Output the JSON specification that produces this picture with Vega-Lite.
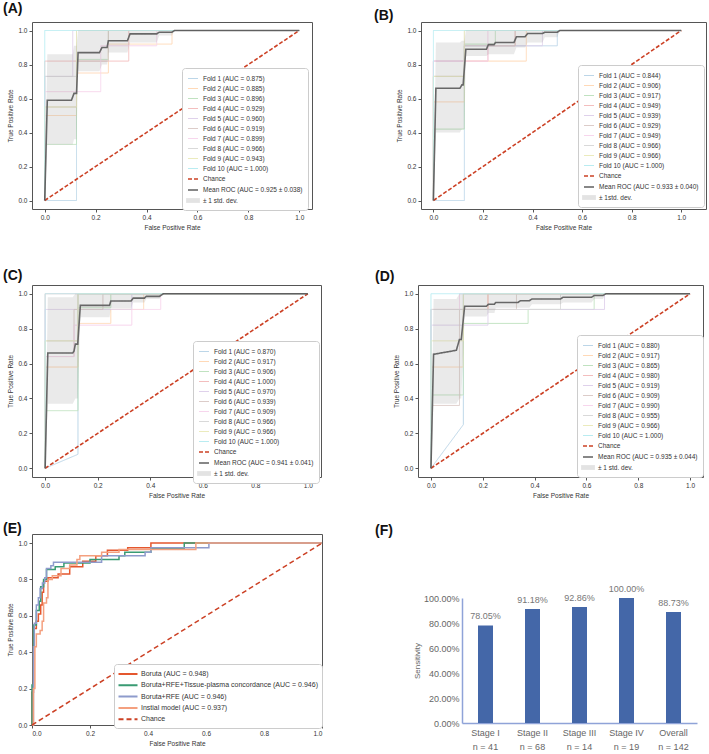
{
"$schema": "https://vega.github.io/schema/vega-lite/v6.json",
"autosize": {"type": "none"},
"padding": {"left": 32, "top": 22, "right": 677, "bottom": 732},
"background": "white",
"config": {
  "font": "Liberation Sans",
  "view": {"stroke": "#555555", "strokeWidth": 1},
  "axis": {"grid": false, "domain": false, "tickSize": 3, "tickColor": "#555555", "labelFontSize": 6.5, "labelColor": "#333333", "titleFontSize": 6.5, "titleFontWeight": "normal", "titleColor": "#333333", "labelPadding": 2, "titlePadding": 4, "labelOverlap": false, "labelSeparation": 0, "labelBound": false},
  "legend": {"orient": "none", "symbolType": "stroke", "fillColor": "white", "strokeColor": "#cccccc", "cornerRadius": 3, "padding": 5, "labelFontSize": 6.5, "labelColor": "#333333", "symbolSize": 100, "rowPadding": 1, "labelLimit": 300, "labelOffset": 4},
  "title": {"anchor": "start", "frame": "group", "fontSize": 14, "fontWeight": "bold", "color": "#111111", "baseline": "bottom"}
},
"datasets": {
"roc": [
{"p":"A","s":"Fold 1 (AUC = 0.875)","i":0,"x":0,"y":0},{"p":"A","s":"Fold 1 (AUC = 0.875)","i":1,"x":0.125,"y":0},{"p":"A","s":"Fold 1 (AUC = 0.875)","i":2,"x":0.125,"y":1},{"p":"A","s":"Fold 1 (AUC = 0.875)","i":3,"x":1,"y":1},
{"p":"A","s":"Fold 2 (AUC = 0.885)","i":0,"x":0,"y":0},{"p":"A","s":"Fold 2 (AUC = 0.885)","i":1,"x":0,"y":0.5},{"p":"A","s":"Fold 2 (AUC = 0.885)","i":2,"x":0.125,"y":0.5},{"p":"A","s":"Fold 2 (AUC = 0.885)","i":3,"x":0.125,"y":0.75},{"p":"A","s":"Fold 2 (AUC = 0.885)","i":4,"x":0.25,"y":0.75},{"p":"A","s":"Fold 2 (AUC = 0.885)","i":5,"x":0.25,"y":0.92},{"p":"A","s":"Fold 2 (AUC = 0.885)","i":6,"x":0.5,"y":0.92},{"p":"A","s":"Fold 2 (AUC = 0.885)","i":7,"x":0.5,"y":1},{"p":"A","s":"Fold 2 (AUC = 0.885)","i":8,"x":1,"y":1},
{"p":"A","s":"Fold 3 (AUC = 0.896)","i":0,"x":0,"y":0},{"p":"A","s":"Fold 3 (AUC = 0.896)","i":1,"x":0,"y":0.33},{"p":"A","s":"Fold 3 (AUC = 0.896)","i":2,"x":0.125,"y":0.33},{"p":"A","s":"Fold 3 (AUC = 0.896)","i":3,"x":0.125,"y":0.83},{"p":"A","s":"Fold 3 (AUC = 0.896)","i":4,"x":0.25,"y":0.83},{"p":"A","s":"Fold 3 (AUC = 0.896)","i":5,"x":0.25,"y":1},{"p":"A","s":"Fold 3 (AUC = 0.896)","i":6,"x":1,"y":1},
{"p":"A","s":"Fold 4 (AUC = 0.929)","i":0,"x":0,"y":0},{"p":"A","s":"Fold 4 (AUC = 0.929)","i":1,"x":0,"y":0.82},{"p":"A","s":"Fold 4 (AUC = 0.929)","i":2,"x":0.33,"y":0.82},{"p":"A","s":"Fold 4 (AUC = 0.929)","i":3,"x":0.33,"y":1},{"p":"A","s":"Fold 4 (AUC = 0.929)","i":4,"x":1,"y":1},
{"p":"A","s":"Fold 5 (AUC = 0.960)","i":0,"x":0,"y":0},{"p":"A","s":"Fold 5 (AUC = 0.960)","i":1,"x":0,"y":0.73},{"p":"A","s":"Fold 5 (AUC = 0.960)","i":2,"x":0.11,"y":0.73},{"p":"A","s":"Fold 5 (AUC = 0.960)","i":3,"x":0.11,"y":1},{"p":"A","s":"Fold 5 (AUC = 0.960)","i":4,"x":1,"y":1},
{"p":"A","s":"Fold 6 (AUC = 0.919)","i":0,"x":0,"y":0},{"p":"A","s":"Fold 6 (AUC = 0.919)","i":1,"x":0,"y":0.55},{"p":"A","s":"Fold 6 (AUC = 0.919)","i":2,"x":0.125,"y":0.55},{"p":"A","s":"Fold 6 (AUC = 0.919)","i":3,"x":0.125,"y":0.82},{"p":"A","s":"Fold 6 (AUC = 0.919)","i":4,"x":0.25,"y":0.82},{"p":"A","s":"Fold 6 (AUC = 0.919)","i":5,"x":0.25,"y":1},{"p":"A","s":"Fold 6 (AUC = 0.919)","i":6,"x":1,"y":1},
{"p":"A","s":"Fold 7 (AUC = 0.899)","i":0,"x":0,"y":0},{"p":"A","s":"Fold 7 (AUC = 0.899)","i":1,"x":0,"y":0.64},{"p":"A","s":"Fold 7 (AUC = 0.899)","i":2,"x":0.22,"y":0.64},{"p":"A","s":"Fold 7 (AUC = 0.899)","i":3,"x":0.22,"y":0.91},{"p":"A","s":"Fold 7 (AUC = 0.899)","i":4,"x":0.44,"y":0.91},{"p":"A","s":"Fold 7 (AUC = 0.899)","i":5,"x":0.44,"y":1},{"p":"A","s":"Fold 7 (AUC = 0.899)","i":6,"x":1,"y":1},
{"p":"A","s":"Fold 8 (AUC = 0.966)","i":0,"x":0,"y":0},{"p":"A","s":"Fold 8 (AUC = 0.966)","i":1,"x":0,"y":0.73},{"p":"A","s":"Fold 8 (AUC = 0.966)","i":2,"x":0.125,"y":0.73},{"p":"A","s":"Fold 8 (AUC = 0.966)","i":3,"x":0.125,"y":1},{"p":"A","s":"Fold 8 (AUC = 0.966)","i":4,"x":1,"y":1},
{"p":"A","s":"Fold 9 (AUC = 0.943)","i":0,"x":0,"y":0},{"p":"A","s":"Fold 9 (AUC = 0.943)","i":1,"x":0,"y":0.55},{"p":"A","s":"Fold 9 (AUC = 0.943)","i":2,"x":0.125,"y":0.55},{"p":"A","s":"Fold 9 (AUC = 0.943)","i":3,"x":0.125,"y":1},{"p":"A","s":"Fold 9 (AUC = 0.943)","i":4,"x":1,"y":1},
{"p":"A","s":"Fold 10 (AUC = 1.000)","i":0,"x":0,"y":0},{"p":"A","s":"Fold 10 (AUC = 1.000)","i":1,"x":0,"y":1},{"p":"A","s":"Fold 10 (AUC = 1.000)","i":2,"x":1,"y":1},
{"p":"A","s":"Chance","i":0,"x":0,"y":0},{"p":"A","s":"Chance","i":1,"x":1,"y":1},
{"p":"A","s":"Mean ROC (AUC = 0.925 ± 0.038)","i":0,"x":0,"y":0},{"p":"A","s":"Mean ROC (AUC = 0.925 ± 0.038)","i":1,"x":0.0101,"y":0.59},{"p":"A","s":"Mean ROC (AUC = 0.925 ± 0.038)","i":2,"x":0.105,"y":0.59},{"p":"A","s":"Mean ROC (AUC = 0.925 ± 0.038)","i":3,"x":0.115,"y":0.63},{"p":"A","s":"Mean ROC (AUC = 0.925 ± 0.038)","i":4,"x":0.125,"y":0.63},{"p":"A","s":"Mean ROC (AUC = 0.925 ± 0.038)","i":5,"x":0.131,"y":0.87},{"p":"A","s":"Mean ROC (AUC = 0.925 ± 0.038)","i":6,"x":0.215,"y":0.87},{"p":"A","s":"Mean ROC (AUC = 0.925 ± 0.038)","i":7,"x":0.225,"y":0.9},{"p":"A","s":"Mean ROC (AUC = 0.925 ± 0.038)","i":8,"x":0.245,"y":0.9},{"p":"A","s":"Mean ROC (AUC = 0.925 ± 0.038)","i":9,"x":0.25,"y":0.94},{"p":"A","s":"Mean ROC (AUC = 0.925 ± 0.038)","i":10,"x":0.325,"y":0.94},{"p":"A","s":"Mean ROC (AUC = 0.925 ± 0.038)","i":11,"x":0.335,"y":0.98},{"p":"A","s":"Mean ROC (AUC = 0.925 ± 0.038)","i":12,"x":0.44,"y":0.98},{"p":"A","s":"Mean ROC (AUC = 0.925 ± 0.038)","i":13,"x":0.45,"y":0.99},{"p":"A","s":"Mean ROC (AUC = 0.925 ± 0.038)","i":14,"x":0.5,"y":0.99},{"p":"A","s":"Mean ROC (AUC = 0.925 ± 0.038)","i":15,"x":0.51,"y":1},{"p":"A","s":"Mean ROC (AUC = 0.925 ± 0.038)","i":16,"x":1,"y":1},

{"p":"B","s":"Fold 1 (AUC = 0.844)","i":0,"x":0,"y":0},{"p":"B","s":"Fold 1 (AUC = 0.844)","i":1,"x":0.125,"y":0},{"p":"B","s":"Fold 1 (AUC = 0.844)","i":2,"x":0.125,"y":0.91},{"p":"B","s":"Fold 1 (AUC = 0.844)","i":3,"x":0.5,"y":0.91},{"p":"B","s":"Fold 1 (AUC = 0.844)","i":4,"x":0.5,"y":1},{"p":"B","s":"Fold 1 (AUC = 0.844)","i":5,"x":1,"y":1},
{"p":"B","s":"Fold 2 (AUC = 0.906)","i":0,"x":0,"y":0},{"p":"B","s":"Fold 2 (AUC = 0.906)","i":1,"x":0,"y":0.58},{"p":"B","s":"Fold 2 (AUC = 0.906)","i":2,"x":0.125,"y":0.58},{"p":"B","s":"Fold 2 (AUC = 0.906)","i":3,"x":0.125,"y":0.82},{"p":"B","s":"Fold 2 (AUC = 0.906)","i":4,"x":0.375,"y":0.82},{"p":"B","s":"Fold 2 (AUC = 0.906)","i":5,"x":0.375,"y":1},{"p":"B","s":"Fold 2 (AUC = 0.906)","i":6,"x":1,"y":1},
{"p":"B","s":"Fold 3 (AUC = 0.917)","i":0,"x":0,"y":0},{"p":"B","s":"Fold 3 (AUC = 0.917)","i":1,"x":0,"y":0.42},{"p":"B","s":"Fold 3 (AUC = 0.917)","i":2,"x":0.125,"y":0.42},{"p":"B","s":"Fold 3 (AUC = 0.917)","i":3,"x":0.125,"y":0.92},{"p":"B","s":"Fold 3 (AUC = 0.917)","i":4,"x":0.25,"y":0.92},{"p":"B","s":"Fold 3 (AUC = 0.917)","i":5,"x":0.25,"y":1},{"p":"B","s":"Fold 3 (AUC = 0.917)","i":6,"x":1,"y":1},
{"p":"B","s":"Fold 4 (AUC = 0.949)","i":0,"x":0,"y":0},{"p":"B","s":"Fold 4 (AUC = 0.949)","i":1,"x":0,"y":0.82},{"p":"B","s":"Fold 4 (AUC = 0.949)","i":2,"x":0.22,"y":0.82},{"p":"B","s":"Fold 4 (AUC = 0.949)","i":3,"x":0.22,"y":0.91},{"p":"B","s":"Fold 4 (AUC = 0.949)","i":4,"x":0.33,"y":0.91},{"p":"B","s":"Fold 4 (AUC = 0.949)","i":5,"x":0.33,"y":1},{"p":"B","s":"Fold 4 (AUC = 0.949)","i":6,"x":1,"y":1},
{"p":"B","s":"Fold 5 (AUC = 0.939)","i":0,"x":0,"y":0},{"p":"B","s":"Fold 5 (AUC = 0.939)","i":1,"x":0,"y":0.82},{"p":"B","s":"Fold 5 (AUC = 0.939)","i":2,"x":0.125,"y":0.82},{"p":"B","s":"Fold 5 (AUC = 0.939)","i":3,"x":0.125,"y":0.91},{"p":"B","s":"Fold 5 (AUC = 0.939)","i":4,"x":0.44,"y":0.91},{"p":"B","s":"Fold 5 (AUC = 0.939)","i":5,"x":0.44,"y":1},{"p":"B","s":"Fold 5 (AUC = 0.939)","i":6,"x":1,"y":1},
{"p":"B","s":"Fold 6 (AUC = 0.929)","i":0,"x":0,"y":0},{"p":"B","s":"Fold 6 (AUC = 0.929)","i":1,"x":0,"y":0.73},{"p":"B","s":"Fold 6 (AUC = 0.929)","i":2,"x":0.125,"y":0.73},{"p":"B","s":"Fold 6 (AUC = 0.929)","i":3,"x":0.125,"y":0.91},{"p":"B","s":"Fold 6 (AUC = 0.929)","i":4,"x":0.33,"y":0.91},{"p":"B","s":"Fold 6 (AUC = 0.929)","i":5,"x":0.33,"y":1},{"p":"B","s":"Fold 6 (AUC = 0.929)","i":6,"x":1,"y":1},
{"p":"B","s":"Fold 7 (AUC = 0.949)","i":0,"x":0,"y":0},{"p":"B","s":"Fold 7 (AUC = 0.949)","i":1,"x":0,"y":0.82},{"p":"B","s":"Fold 7 (AUC = 0.949)","i":2,"x":0.22,"y":0.82},{"p":"B","s":"Fold 7 (AUC = 0.949)","i":3,"x":0.22,"y":1},{"p":"B","s":"Fold 7 (AUC = 0.949)","i":4,"x":1,"y":1},
{"p":"B","s":"Fold 8 (AUC = 0.966)","i":0,"x":0,"y":0},{"p":"B","s":"Fold 8 (AUC = 0.966)","i":1,"x":0,"y":0.73},{"p":"B","s":"Fold 8 (AUC = 0.966)","i":2,"x":0.125,"y":0.73},{"p":"B","s":"Fold 8 (AUC = 0.966)","i":3,"x":0.125,"y":1},{"p":"B","s":"Fold 8 (AUC = 0.966)","i":4,"x":1,"y":1},
{"p":"B","s":"Fold 9 (AUC = 0.966)","i":0,"x":0,"y":0},{"p":"B","s":"Fold 9 (AUC = 0.966)","i":1,"x":0,"y":0.73},{"p":"B","s":"Fold 9 (AUC = 0.966)","i":2,"x":0.125,"y":0.73},{"p":"B","s":"Fold 9 (AUC = 0.966)","i":3,"x":0.125,"y":1},{"p":"B","s":"Fold 9 (AUC = 0.966)","i":4,"x":1,"y":1},
{"p":"B","s":"Fold 10 (AUC = 1.000)","i":0,"x":0,"y":0},{"p":"B","s":"Fold 10 (AUC = 1.000)","i":1,"x":0,"y":1},{"p":"B","s":"Fold 10 (AUC = 1.000)","i":2,"x":1,"y":1},
{"p":"B","s":"Chance","i":0,"x":0,"y":0},{"p":"B","s":"Chance","i":1,"x":1,"y":1},
{"p":"B","s":"Mean ROC (AUC = 0.933 ± 0.040)","i":0,"x":0,"y":0},{"p":"B","s":"Mean ROC (AUC = 0.933 ± 0.040)","i":1,"x":0.0101,"y":0.66},{"p":"B","s":"Mean ROC (AUC = 0.933 ± 0.040)","i":2,"x":0.107,"y":0.66},{"p":"B","s":"Mean ROC (AUC = 0.933 ± 0.040)","i":3,"x":0.115,"y":0.68},{"p":"B","s":"Mean ROC (AUC = 0.933 ± 0.040)","i":4,"x":0.12,"y":0.68},{"p":"B","s":"Mean ROC (AUC = 0.933 ± 0.040)","i":5,"x":0.131,"y":0.89},{"p":"B","s":"Mean ROC (AUC = 0.933 ± 0.040)","i":6,"x":0.214,"y":0.89},{"p":"B","s":"Mean ROC (AUC = 0.933 ± 0.040)","i":7,"x":0.222,"y":0.917},{"p":"B","s":"Mean ROC (AUC = 0.933 ± 0.040)","i":8,"x":0.245,"y":0.917},{"p":"B","s":"Mean ROC (AUC = 0.933 ± 0.040)","i":9,"x":0.25,"y":0.929},{"p":"B","s":"Mean ROC (AUC = 0.933 ± 0.040)","i":10,"x":0.325,"y":0.929},{"p":"B","s":"Mean ROC (AUC = 0.933 ± 0.040)","i":11,"x":0.335,"y":0.963},{"p":"B","s":"Mean ROC (AUC = 0.933 ± 0.040)","i":12,"x":0.37,"y":0.963},{"p":"B","s":"Mean ROC (AUC = 0.933 ± 0.040)","i":13,"x":0.38,"y":0.982},{"p":"B","s":"Mean ROC (AUC = 0.933 ± 0.040)","i":14,"x":0.44,"y":0.982},{"p":"B","s":"Mean ROC (AUC = 0.933 ± 0.040)","i":15,"x":0.45,"y":0.99},{"p":"B","s":"Mean ROC (AUC = 0.933 ± 0.040)","i":16,"x":0.5,"y":0.99},{"p":"B","s":"Mean ROC (AUC = 0.933 ± 0.040)","i":17,"x":0.51,"y":1},{"p":"B","s":"Mean ROC (AUC = 0.933 ± 0.040)","i":18,"x":1,"y":1},

{"p":"C","s":"Fold 1 (AUC = 0.870)","i":0,"x":0,"y":0},{"p":"C","s":"Fold 1 (AUC = 0.870)","i":1,"x":0.125,"y":0.08},{"p":"C","s":"Fold 1 (AUC = 0.870)","i":2,"x":0.125,"y":1},{"p":"C","s":"Fold 1 (AUC = 0.870)","i":3,"x":1,"y":1},
{"p":"C","s":"Fold 2 (AUC = 0.917)","i":0,"x":0,"y":0},{"p":"C","s":"Fold 2 (AUC = 0.917)","i":1,"x":0,"y":0.58},{"p":"C","s":"Fold 2 (AUC = 0.917)","i":2,"x":0.125,"y":0.58},{"p":"C","s":"Fold 2 (AUC = 0.917)","i":3,"x":0.125,"y":0.83},{"p":"C","s":"Fold 2 (AUC = 0.917)","i":4,"x":0.25,"y":0.83},{"p":"C","s":"Fold 2 (AUC = 0.917)","i":5,"x":0.25,"y":0.91},{"p":"C","s":"Fold 2 (AUC = 0.917)","i":6,"x":0.375,"y":0.91},{"p":"C","s":"Fold 2 (AUC = 0.917)","i":7,"x":0.375,"y":1},{"p":"C","s":"Fold 2 (AUC = 0.917)","i":8,"x":1,"y":1},
{"p":"C","s":"Fold 3 (AUC = 0.906)","i":0,"x":0,"y":0},{"p":"C","s":"Fold 3 (AUC = 0.906)","i":1,"x":0,"y":0.33},{"p":"C","s":"Fold 3 (AUC = 0.906)","i":2,"x":0.125,"y":0.33},{"p":"C","s":"Fold 3 (AUC = 0.906)","i":3,"x":0.125,"y":0.92},{"p":"C","s":"Fold 3 (AUC = 0.906)","i":4,"x":0.25,"y":0.92},{"p":"C","s":"Fold 3 (AUC = 0.906)","i":5,"x":0.25,"y":1},{"p":"C","s":"Fold 3 (AUC = 0.906)","i":6,"x":1,"y":1},
{"p":"C","s":"Fold 4 (AUC = 1.000)","i":0,"x":0,"y":0},{"p":"C","s":"Fold 4 (AUC = 1.000)","i":1,"x":0,"y":1},{"p":"C","s":"Fold 4 (AUC = 1.000)","i":2,"x":1,"y":1},
{"p":"C","s":"Fold 5 (AUC = 0.970)","i":0,"x":0,"y":0},{"p":"C","s":"Fold 5 (AUC = 0.970)","i":1,"x":0,"y":0.91},{"p":"C","s":"Fold 5 (AUC = 0.970)","i":2,"x":0.33,"y":0.91},{"p":"C","s":"Fold 5 (AUC = 0.970)","i":3,"x":0.33,"y":1},{"p":"C","s":"Fold 5 (AUC = 0.970)","i":4,"x":1,"y":1},
{"p":"C","s":"Fold 6 (AUC = 0.939)","i":0,"x":0,"y":0},{"p":"C","s":"Fold 6 (AUC = 0.939)","i":1,"x":0,"y":0.64},{"p":"C","s":"Fold 6 (AUC = 0.939)","i":2,"x":0.11,"y":0.64},{"p":"C","s":"Fold 6 (AUC = 0.939)","i":3,"x":0.11,"y":0.91},{"p":"C","s":"Fold 6 (AUC = 0.939)","i":4,"x":0.22,"y":0.91},{"p":"C","s":"Fold 6 (AUC = 0.939)","i":5,"x":0.22,"y":1},{"p":"C","s":"Fold 6 (AUC = 0.939)","i":6,"x":1,"y":1},
{"p":"C","s":"Fold 7 (AUC = 0.909)","i":0,"x":0,"y":0},{"p":"C","s":"Fold 7 (AUC = 0.909)","i":1,"x":0,"y":0.64},{"p":"C","s":"Fold 7 (AUC = 0.909)","i":2,"x":0.11,"y":0.64},{"p":"C","s":"Fold 7 (AUC = 0.909)","i":3,"x":0.11,"y":0.82},{"p":"C","s":"Fold 7 (AUC = 0.909)","i":4,"x":0.33,"y":0.82},{"p":"C","s":"Fold 7 (AUC = 0.909)","i":5,"x":0.33,"y":0.91},{"p":"C","s":"Fold 7 (AUC = 0.909)","i":6,"x":0.44,"y":0.91},{"p":"C","s":"Fold 7 (AUC = 0.909)","i":7,"x":0.44,"y":1},{"p":"C","s":"Fold 7 (AUC = 0.909)","i":8,"x":1,"y":1},
{"p":"C","s":"Fold 8 (AUC = 0.966)","i":0,"x":0,"y":0},{"p":"C","s":"Fold 8 (AUC = 0.966)","i":1,"x":0,"y":0.73},{"p":"C","s":"Fold 8 (AUC = 0.966)","i":2,"x":0.125,"y":0.73},{"p":"C","s":"Fold 8 (AUC = 0.966)","i":3,"x":0.125,"y":1},{"p":"C","s":"Fold 8 (AUC = 0.966)","i":4,"x":1,"y":1},
{"p":"C","s":"Fold 9 (AUC = 0.966)","i":0,"x":0,"y":0},{"p":"C","s":"Fold 9 (AUC = 0.966)","i":1,"x":0,"y":0.73},{"p":"C","s":"Fold 9 (AUC = 0.966)","i":2,"x":0.125,"y":0.73},{"p":"C","s":"Fold 9 (AUC = 0.966)","i":3,"x":0.125,"y":1},{"p":"C","s":"Fold 9 (AUC = 0.966)","i":4,"x":1,"y":1},
{"p":"C","s":"Fold 10 (AUC = 1.000)","i":0,"x":0,"y":0},{"p":"C","s":"Fold 10 (AUC = 1.000)","i":1,"x":0,"y":1},{"p":"C","s":"Fold 10 (AUC = 1.000)","i":2,"x":1,"y":1},
{"p":"C","s":"Chance","i":0,"x":0,"y":0},{"p":"C","s":"Chance","i":1,"x":1,"y":1},
{"p":"C","s":"Mean ROC (AUC = 0.941 ± 0.041)","i":0,"x":0,"y":0},{"p":"C","s":"Mean ROC (AUC = 0.941 ± 0.041)","i":1,"x":0.0101,"y":0.66},{"p":"C","s":"Mean ROC (AUC = 0.941 ± 0.041)","i":2,"x":0.105,"y":0.66},{"p":"C","s":"Mean ROC (AUC = 0.941 ± 0.041)","i":3,"x":0.11,"y":0.672},{"p":"C","s":"Mean ROC (AUC = 0.941 ± 0.041)","i":4,"x":0.115,"y":0.711},{"p":"C","s":"Mean ROC (AUC = 0.941 ± 0.041)","i":5,"x":0.124,"y":0.711},{"p":"C","s":"Mean ROC (AUC = 0.941 ± 0.041)","i":6,"x":0.134,"y":0.933},{"p":"C","s":"Mean ROC (AUC = 0.941 ± 0.041)","i":7,"x":0.245,"y":0.933},{"p":"C","s":"Mean ROC (AUC = 0.941 ± 0.041)","i":8,"x":0.25,"y":0.958},{"p":"C","s":"Mean ROC (AUC = 0.941 ± 0.041)","i":9,"x":0.327,"y":0.958},{"p":"C","s":"Mean ROC (AUC = 0.941 ± 0.041)","i":10,"x":0.335,"y":0.975},{"p":"C","s":"Mean ROC (AUC = 0.941 ± 0.041)","i":11,"x":0.378,"y":0.975},{"p":"C","s":"Mean ROC (AUC = 0.941 ± 0.041)","i":12,"x":0.385,"y":0.985},{"p":"C","s":"Mean ROC (AUC = 0.941 ± 0.041)","i":13,"x":0.435,"y":0.985},{"p":"C","s":"Mean ROC (AUC = 0.941 ± 0.041)","i":14,"x":0.45,"y":1},{"p":"C","s":"Mean ROC (AUC = 0.941 ± 0.041)","i":15,"x":1,"y":1},

{"p":"D","s":"Fold 1 (AUC = 0.880)","i":0,"x":0,"y":0},{"p":"D","s":"Fold 1 (AUC = 0.880)","i":1,"x":0.125,"y":0.25},{"p":"D","s":"Fold 1 (AUC = 0.880)","i":2,"x":0.125,"y":1},{"p":"D","s":"Fold 1 (AUC = 0.880)","i":3,"x":1,"y":1},
{"p":"D","s":"Fold 2 (AUC = 0.917)","i":0,"x":0,"y":0},{"p":"D","s":"Fold 2 (AUC = 0.917)","i":1,"x":0,"y":0.58},{"p":"D","s":"Fold 2 (AUC = 0.917)","i":2,"x":0.125,"y":0.58},{"p":"D","s":"Fold 2 (AUC = 0.917)","i":3,"x":0.125,"y":0.91},{"p":"D","s":"Fold 2 (AUC = 0.917)","i":4,"x":0.22,"y":0.91},{"p":"D","s":"Fold 2 (AUC = 0.917)","i":5,"x":0.22,"y":1},{"p":"D","s":"Fold 2 (AUC = 0.917)","i":6,"x":1,"y":1},
{"p":"D","s":"Fold 3 (AUC = 0.865)","i":0,"x":0,"y":0},{"p":"D","s":"Fold 3 (AUC = 0.865)","i":1,"x":0,"y":0.42},{"p":"D","s":"Fold 3 (AUC = 0.865)","i":2,"x":0.125,"y":0.42},{"p":"D","s":"Fold 3 (AUC = 0.865)","i":3,"x":0.125,"y":0.83},{"p":"D","s":"Fold 3 (AUC = 0.865)","i":4,"x":0.375,"y":0.83},{"p":"D","s":"Fold 3 (AUC = 0.865)","i":5,"x":0.375,"y":0.91},{"p":"D","s":"Fold 3 (AUC = 0.865)","i":6,"x":0.63,"y":0.91},{"p":"D","s":"Fold 3 (AUC = 0.865)","i":7,"x":0.63,"y":1},{"p":"D","s":"Fold 3 (AUC = 0.865)","i":8,"x":1,"y":1},
{"p":"D","s":"Fold 4 (AUC = 0.980)","i":0,"x":0,"y":0},{"p":"D","s":"Fold 4 (AUC = 0.980)","i":1,"x":0,"y":0.91},{"p":"D","s":"Fold 4 (AUC = 0.980)","i":2,"x":0.22,"y":0.91},{"p":"D","s":"Fold 4 (AUC = 0.980)","i":3,"x":0.22,"y":1},{"p":"D","s":"Fold 4 (AUC = 0.980)","i":4,"x":1,"y":1},
{"p":"D","s":"Fold 5 (AUC = 0.919)","i":0,"x":0,"y":0},{"p":"D","s":"Fold 5 (AUC = 0.919)","i":1,"x":0,"y":0.82},{"p":"D","s":"Fold 5 (AUC = 0.919)","i":2,"x":0.22,"y":0.82},{"p":"D","s":"Fold 5 (AUC = 0.919)","i":3,"x":0.22,"y":0.91},{"p":"D","s":"Fold 5 (AUC = 0.919)","i":4,"x":0.67,"y":0.91},{"p":"D","s":"Fold 5 (AUC = 0.919)","i":5,"x":0.67,"y":1},{"p":"D","s":"Fold 5 (AUC = 0.919)","i":6,"x":1,"y":1},
{"p":"D","s":"Fold 6 (AUC = 0.909)","i":0,"x":0,"y":0},{"p":"D","s":"Fold 6 (AUC = 0.909)","i":1,"x":0,"y":0.36},{"p":"D","s":"Fold 6 (AUC = 0.909)","i":2,"x":0.11,"y":0.36},{"p":"D","s":"Fold 6 (AUC = 0.909)","i":3,"x":0.11,"y":0.91},{"p":"D","s":"Fold 6 (AUC = 0.909)","i":4,"x":0.33,"y":0.91},{"p":"D","s":"Fold 6 (AUC = 0.909)","i":5,"x":0.33,"y":1},{"p":"D","s":"Fold 6 (AUC = 0.909)","i":6,"x":1,"y":1},
{"p":"D","s":"Fold 7 (AUC = 0.990)","i":0,"x":0,"y":0},{"p":"D","s":"Fold 7 (AUC = 0.990)","i":1,"x":0,"y":0.91},{"p":"D","s":"Fold 7 (AUC = 0.990)","i":2,"x":0.11,"y":0.91},{"p":"D","s":"Fold 7 (AUC = 0.990)","i":3,"x":0.11,"y":1},{"p":"D","s":"Fold 7 (AUC = 0.990)","i":4,"x":1,"y":1},
{"p":"D","s":"Fold 8 (AUC = 0.955)","i":0,"x":0,"y":0},{"p":"D","s":"Fold 8 (AUC = 0.955)","i":1,"x":0,"y":0.91},{"p":"D","s":"Fold 8 (AUC = 0.955)","i":2,"x":0.5,"y":0.91},{"p":"D","s":"Fold 8 (AUC = 0.955)","i":3,"x":0.5,"y":1},{"p":"D","s":"Fold 8 (AUC = 0.955)","i":4,"x":1,"y":1},
{"p":"D","s":"Fold 9 (AUC = 0.966)","i":0,"x":0,"y":0},{"p":"D","s":"Fold 9 (AUC = 0.966)","i":1,"x":0,"y":0.73},{"p":"D","s":"Fold 9 (AUC = 0.966)","i":2,"x":0.125,"y":0.73},{"p":"D","s":"Fold 9 (AUC = 0.966)","i":3,"x":0.125,"y":1},{"p":"D","s":"Fold 9 (AUC = 0.966)","i":4,"x":1,"y":1},
{"p":"D","s":"Fold 10 (AUC = 1.000)","i":0,"x":0,"y":0},{"p":"D","s":"Fold 10 (AUC = 1.000)","i":1,"x":0,"y":1},{"p":"D","s":"Fold 10 (AUC = 1.000)","i":2,"x":1,"y":1},
{"p":"D","s":"Chance","i":0,"x":0,"y":0},{"p":"D","s":"Chance","i":1,"x":1,"y":1},
{"p":"D","s":"Mean ROC (AUC = 0.935 ± 0.044)","i":0,"x":0,"y":0},{"p":"D","s":"Mean ROC (AUC = 0.935 ± 0.044)","i":1,"x":0.0101,"y":0.653},{"p":"D","s":"Mean ROC (AUC = 0.935 ± 0.044)","i":2,"x":0.098,"y":0.676},{"p":"D","s":"Mean ROC (AUC = 0.935 ± 0.044)","i":3,"x":0.11,"y":0.738},{"p":"D","s":"Mean ROC (AUC = 0.935 ± 0.044)","i":4,"x":0.117,"y":0.738},{"p":"D","s":"Mean ROC (AUC = 0.935 ± 0.044)","i":5,"x":0.13,"y":0.928},{"p":"D","s":"Mean ROC (AUC = 0.935 ± 0.044)","i":6,"x":0.214,"y":0.928},{"p":"D","s":"Mean ROC (AUC = 0.935 ± 0.044)","i":7,"x":0.222,"y":0.94},{"p":"D","s":"Mean ROC (AUC = 0.935 ± 0.044)","i":8,"x":0.245,"y":0.94},{"p":"D","s":"Mean ROC (AUC = 0.935 ± 0.044)","i":9,"x":0.25,"y":0.95},{"p":"D","s":"Mean ROC (AUC = 0.935 ± 0.044)","i":10,"x":0.336,"y":0.95},{"p":"D","s":"Mean ROC (AUC = 0.935 ± 0.044)","i":11,"x":0.345,"y":0.96},{"p":"D","s":"Mean ROC (AUC = 0.935 ± 0.044)","i":12,"x":0.38,"y":0.96},{"p":"D","s":"Mean ROC (AUC = 0.935 ± 0.044)","i":13,"x":0.39,"y":0.97},{"p":"D","s":"Mean ROC (AUC = 0.935 ± 0.044)","i":14,"x":0.5,"y":0.97},{"p":"D","s":"Mean ROC (AUC = 0.935 ± 0.044)","i":15,"x":0.51,"y":0.98},{"p":"D","s":"Mean ROC (AUC = 0.935 ± 0.044)","i":16,"x":0.62,"y":0.98},{"p":"D","s":"Mean ROC (AUC = 0.935 ± 0.044)","i":17,"x":0.63,"y":0.99},{"p":"D","s":"Mean ROC (AUC = 0.935 ± 0.044)","i":18,"x":0.664,"y":0.99},{"p":"D","s":"Mean ROC (AUC = 0.935 ± 0.044)","i":19,"x":0.675,"y":1},{"p":"D","s":"Mean ROC (AUC = 0.935 ± 0.044)","i":20,"x":1,"y":1}
],
"band": [
{"p":"A","x":0,"lo":0,"hi":0},{"p":"A","x":0.0101,"lo":0.33,"hi":0.86},{"p":"A","x":0.11,"lo":0.33,"hi":0.86},{"p":"A","x":0.115,"lo":0.36,"hi":0.91},{"p":"A","x":0.125,"lo":0.36,"hi":0.91},{"p":"A","x":0.131,"lo":0.76,"hi":1},{"p":"A","x":0.215,"lo":0.76,"hi":1},{"p":"A","x":0.225,"lo":0.8,"hi":1},{"p":"A","x":0.245,"lo":0.8,"hi":1},{"p":"A","x":0.25,"lo":0.87,"hi":1},{"p":"A","x":0.325,"lo":0.87,"hi":1},{"p":"A","x":0.335,"lo":0.93,"hi":1},{"p":"A","x":0.44,"lo":0.93,"hi":1},{"p":"A","x":0.45,"lo":0.97,"hi":1},{"p":"A","x":0.5,"lo":0.97,"hi":1},{"p":"A","x":0.51,"lo":1,"hi":1},{"p":"A","x":1,"lo":1,"hi":1},
{"p":"B","x":0,"lo":0,"hi":0},{"p":"B","x":0.0101,"lo":0.4,"hi":0.93},{"p":"B","x":0.107,"lo":0.4,"hi":0.93},{"p":"B","x":0.115,"lo":0.42,"hi":0.94},{"p":"B","x":0.125,"lo":0.42,"hi":0.94},{"p":"B","x":0.131,"lo":0.85,"hi":1},{"p":"B","x":0.214,"lo":0.85,"hi":1},{"p":"B","x":0.222,"lo":0.86,"hi":1},{"p":"B","x":0.325,"lo":0.86,"hi":1},{"p":"B","x":0.335,"lo":0.9,"hi":1},{"p":"B","x":0.37,"lo":0.9,"hi":1},{"p":"B","x":0.38,"lo":0.93,"hi":1},{"p":"B","x":0.44,"lo":0.93,"hi":1},{"p":"B","x":0.45,"lo":0.96,"hi":1},{"p":"B","x":0.5,"lo":0.96,"hi":1},{"p":"B","x":0.51,"lo":1,"hi":1},{"p":"B","x":1,"lo":1,"hi":1},
{"p":"C","x":0,"lo":0,"hi":0},{"p":"C","x":0.0101,"lo":0.37,"hi":0.98},{"p":"C","x":0.105,"lo":0.37,"hi":0.98},{"p":"C","x":0.115,"lo":0.4,"hi":1},{"p":"C","x":0.124,"lo":0.4,"hi":1},{"p":"C","x":0.134,"lo":0.865,"hi":1},{"p":"C","x":0.245,"lo":0.865,"hi":1},{"p":"C","x":0.25,"lo":0.915,"hi":1},{"p":"C","x":0.327,"lo":0.915,"hi":1},{"p":"C","x":0.335,"lo":0.95,"hi":1},{"p":"C","x":0.378,"lo":0.95,"hi":1},{"p":"C","x":0.385,"lo":0.97,"hi":1},{"p":"C","x":0.435,"lo":0.97,"hi":1},{"p":"C","x":0.45,"lo":1,"hi":1},{"p":"C","x":1,"lo":1,"hi":1},
{"p":"D","x":0,"lo":0,"hi":0},{"p":"D","x":0.0101,"lo":0.37,"hi":0.97},{"p":"D","x":0.098,"lo":0.37,"hi":0.97},{"p":"D","x":0.11,"lo":0.4,"hi":1},{"p":"D","x":0.117,"lo":0.4,"hi":1},{"p":"D","x":0.13,"lo":0.87,"hi":1},{"p":"D","x":0.214,"lo":0.87,"hi":1},{"p":"D","x":0.222,"lo":0.89,"hi":1},{"p":"D","x":0.245,"lo":0.89,"hi":1},{"p":"D","x":0.25,"lo":0.92,"hi":1},{"p":"D","x":0.38,"lo":0.92,"hi":1},{"p":"D","x":0.39,"lo":0.94,"hi":1},{"p":"D","x":0.5,"lo":0.94,"hi":1},{"p":"D","x":0.51,"lo":0.95,"hi":1},{"p":"D","x":0.62,"lo":0.95,"hi":1},{"p":"D","x":0.63,"lo":0.97,"hi":1},{"p":"D","x":0.664,"lo":0.97,"hi":1},{"p":"D","x":0.675,"lo":1,"hi":1},{"p":"D","x":1,"lo":1,"hi":1}
],
"e": [
{"s":"Boruta (AUC = 0.948)","i":0,"x":0,"y":0},{"s":"Boruta (AUC = 0.948)","i":1,"x":0,"y":0.18},{"s":"Boruta (AUC = 0.948)","i":2,"x":0.005,"y":0.18},{"s":"Boruta (AUC = 0.948)","i":3,"x":0.005,"y":0.53},{"s":"Boruta (AUC = 0.948)","i":4,"x":0.015,"y":0.53},{"s":"Boruta (AUC = 0.948)","i":5,"x":0.015,"y":0.57},{"s":"Boruta (AUC = 0.948)","i":6,"x":0.022,"y":0.57},{"s":"Boruta (AUC = 0.948)","i":7,"x":0.022,"y":0.61},{"s":"Boruta (AUC = 0.948)","i":8,"x":0.03,"y":0.61},{"s":"Boruta (AUC = 0.948)","i":9,"x":0.03,"y":0.66},{"s":"Boruta (AUC = 0.948)","i":10,"x":0.035,"y":0.66},{"s":"Boruta (AUC = 0.948)","i":11,"x":0.035,"y":0.73},{"s":"Boruta (AUC = 0.948)","i":12,"x":0.04,"y":0.73},{"s":"Boruta (AUC = 0.948)","i":13,"x":0.04,"y":0.79},{"s":"Boruta (AUC = 0.948)","i":14,"x":0.055,"y":0.79},{"s":"Boruta (AUC = 0.948)","i":15,"x":0.055,"y":0.81},{"s":"Boruta (AUC = 0.948)","i":16,"x":0.09,"y":0.81},{"s":"Boruta (AUC = 0.948)","i":17,"x":0.09,"y":0.83},{"s":"Boruta (AUC = 0.948)","i":18,"x":0.13,"y":0.83},{"s":"Boruta (AUC = 0.948)","i":19,"x":0.13,"y":0.87},{"s":"Boruta (AUC = 0.948)","i":20,"x":0.175,"y":0.87},{"s":"Boruta (AUC = 0.948)","i":21,"x":0.175,"y":0.9},{"s":"Boruta (AUC = 0.948)","i":22,"x":0.22,"y":0.9},{"s":"Boruta (AUC = 0.948)","i":23,"x":0.22,"y":0.93},{"s":"Boruta (AUC = 0.948)","i":24,"x":0.26,"y":0.93},{"s":"Boruta (AUC = 0.948)","i":25,"x":0.26,"y":0.96},{"s":"Boruta (AUC = 0.948)","i":26,"x":0.33,"y":0.96},{"s":"Boruta (AUC = 0.948)","i":27,"x":0.33,"y":0.975},{"s":"Boruta (AUC = 0.948)","i":28,"x":0.41,"y":0.975},{"s":"Boruta (AUC = 0.948)","i":29,"x":0.41,"y":1},{"s":"Boruta (AUC = 0.948)","i":30,"x":1,"y":1},
{"s":"Boruta+RFE+Tissue-plasma concordance (AUC = 0.946)","i":0,"x":0,"y":0},{"s":"Boruta+RFE+Tissue-plasma concordance (AUC = 0.946)","i":1,"x":0,"y":0.22},{"s":"Boruta+RFE+Tissue-plasma concordance (AUC = 0.946)","i":2,"x":0.005,"y":0.22},{"s":"Boruta+RFE+Tissue-plasma concordance (AUC = 0.946)","i":3,"x":0.005,"y":0.55},{"s":"Boruta+RFE+Tissue-plasma concordance (AUC = 0.946)","i":4,"x":0.015,"y":0.55},{"s":"Boruta+RFE+Tissue-plasma concordance (AUC = 0.946)","i":5,"x":0.015,"y":0.63},{"s":"Boruta+RFE+Tissue-plasma concordance (AUC = 0.946)","i":6,"x":0.025,"y":0.63},{"s":"Boruta+RFE+Tissue-plasma concordance (AUC = 0.946)","i":7,"x":0.025,"y":0.68},{"s":"Boruta+RFE+Tissue-plasma concordance (AUC = 0.946)","i":8,"x":0.03,"y":0.68},{"s":"Boruta+RFE+Tissue-plasma concordance (AUC = 0.946)","i":9,"x":0.03,"y":0.76},{"s":"Boruta+RFE+Tissue-plasma concordance (AUC = 0.946)","i":10,"x":0.04,"y":0.76},{"s":"Boruta+RFE+Tissue-plasma concordance (AUC = 0.946)","i":11,"x":0.04,"y":0.8},{"s":"Boruta+RFE+Tissue-plasma concordance (AUC = 0.946)","i":12,"x":0.05,"y":0.8},{"s":"Boruta+RFE+Tissue-plasma concordance (AUC = 0.946)","i":13,"x":0.05,"y":0.855},{"s":"Boruta+RFE+Tissue-plasma concordance (AUC = 0.946)","i":14,"x":0.08,"y":0.855},{"s":"Boruta+RFE+Tissue-plasma concordance (AUC = 0.946)","i":15,"x":0.08,"y":0.87},{"s":"Boruta+RFE+Tissue-plasma concordance (AUC = 0.946)","i":16,"x":0.11,"y":0.87},{"s":"Boruta+RFE+Tissue-plasma concordance (AUC = 0.946)","i":17,"x":0.11,"y":0.89},{"s":"Boruta+RFE+Tissue-plasma concordance (AUC = 0.946)","i":18,"x":0.2,"y":0.89},{"s":"Boruta+RFE+Tissue-plasma concordance (AUC = 0.946)","i":19,"x":0.2,"y":0.91},{"s":"Boruta+RFE+Tissue-plasma concordance (AUC = 0.946)","i":20,"x":0.3,"y":0.91},{"s":"Boruta+RFE+Tissue-plasma concordance (AUC = 0.946)","i":21,"x":0.3,"y":0.93},{"s":"Boruta+RFE+Tissue-plasma concordance (AUC = 0.946)","i":22,"x":0.32,"y":0.93},{"s":"Boruta+RFE+Tissue-plasma concordance (AUC = 0.946)","i":23,"x":0.32,"y":0.95},{"s":"Boruta+RFE+Tissue-plasma concordance (AUC = 0.946)","i":24,"x":0.41,"y":0.95},{"s":"Boruta+RFE+Tissue-plasma concordance (AUC = 0.946)","i":25,"x":0.41,"y":0.97},{"s":"Boruta+RFE+Tissue-plasma concordance (AUC = 0.946)","i":26,"x":0.525,"y":0.97},{"s":"Boruta+RFE+Tissue-plasma concordance (AUC = 0.946)","i":27,"x":0.525,"y":1},{"s":"Boruta+RFE+Tissue-plasma concordance (AUC = 0.946)","i":28,"x":1,"y":1},
{"s":"Boruta+RFE (AUC = 0.946)","i":0,"x":0,"y":0},{"s":"Boruta+RFE (AUC = 0.946)","i":1,"x":0.005,"y":0},{"s":"Boruta+RFE (AUC = 0.946)","i":2,"x":0.005,"y":0.43},{"s":"Boruta+RFE (AUC = 0.946)","i":3,"x":0.008,"y":0.43},{"s":"Boruta+RFE (AUC = 0.946)","i":4,"x":0.008,"y":0.56},{"s":"Boruta+RFE (AUC = 0.946)","i":5,"x":0.015,"y":0.56},{"s":"Boruta+RFE (AUC = 0.946)","i":6,"x":0.015,"y":0.66},{"s":"Boruta+RFE (AUC = 0.946)","i":7,"x":0.022,"y":0.66},{"s":"Boruta+RFE (AUC = 0.946)","i":8,"x":0.022,"y":0.7},{"s":"Boruta+RFE (AUC = 0.946)","i":9,"x":0.028,"y":0.7},{"s":"Boruta+RFE (AUC = 0.946)","i":10,"x":0.028,"y":0.75},{"s":"Boruta+RFE (AUC = 0.946)","i":11,"x":0.036,"y":0.75},{"s":"Boruta+RFE (AUC = 0.946)","i":12,"x":0.036,"y":0.78},{"s":"Boruta+RFE (AUC = 0.946)","i":13,"x":0.044,"y":0.78},{"s":"Boruta+RFE (AUC = 0.946)","i":14,"x":0.044,"y":0.81},{"s":"Boruta+RFE (AUC = 0.946)","i":15,"x":0.05,"y":0.81},{"s":"Boruta+RFE (AUC = 0.946)","i":16,"x":0.05,"y":0.86},{"s":"Boruta+RFE (AUC = 0.946)","i":17,"x":0.065,"y":0.86},{"s":"Boruta+RFE (AUC = 0.946)","i":18,"x":0.065,"y":0.875},{"s":"Boruta+RFE (AUC = 0.946)","i":19,"x":0.074,"y":0.875},{"s":"Boruta+RFE (AUC = 0.946)","i":20,"x":0.074,"y":0.895},{"s":"Boruta+RFE (AUC = 0.946)","i":21,"x":0.24,"y":0.895},{"s":"Boruta+RFE (AUC = 0.946)","i":22,"x":0.24,"y":0.93},{"s":"Boruta+RFE (AUC = 0.946)","i":23,"x":0.39,"y":0.93},{"s":"Boruta+RFE (AUC = 0.946)","i":24,"x":0.39,"y":0.95},{"s":"Boruta+RFE (AUC = 0.946)","i":25,"x":0.41,"y":0.95},{"s":"Boruta+RFE (AUC = 0.946)","i":26,"x":0.41,"y":0.975},{"s":"Boruta+RFE (AUC = 0.946)","i":27,"x":0.61,"y":0.975},{"s":"Boruta+RFE (AUC = 0.946)","i":28,"x":0.61,"y":1},{"s":"Boruta+RFE (AUC = 0.946)","i":29,"x":1,"y":1},
{"s":"Instial model (AUC = 0.937)","i":0,"x":0,"y":0},{"s":"Instial model (AUC = 0.937)","i":1,"x":0.005,"y":0},{"s":"Instial model (AUC = 0.937)","i":2,"x":0.005,"y":0.2},{"s":"Instial model (AUC = 0.937)","i":3,"x":0.01,"y":0.2},{"s":"Instial model (AUC = 0.937)","i":4,"x":0.01,"y":0.43},{"s":"Instial model (AUC = 0.937)","i":5,"x":0.015,"y":0.43},{"s":"Instial model (AUC = 0.937)","i":6,"x":0.015,"y":0.5},{"s":"Instial model (AUC = 0.937)","i":7,"x":0.028,"y":0.5},{"s":"Instial model (AUC = 0.937)","i":8,"x":0.028,"y":0.52},{"s":"Instial model (AUC = 0.937)","i":9,"x":0.035,"y":0.52},{"s":"Instial model (AUC = 0.937)","i":10,"x":0.035,"y":0.57},{"s":"Instial model (AUC = 0.937)","i":11,"x":0.04,"y":0.57},{"s":"Instial model (AUC = 0.937)","i":12,"x":0.04,"y":0.67},{"s":"Instial model (AUC = 0.937)","i":13,"x":0.05,"y":0.67},{"s":"Instial model (AUC = 0.937)","i":14,"x":0.05,"y":0.7},{"s":"Instial model (AUC = 0.937)","i":15,"x":0.055,"y":0.7},{"s":"Instial model (AUC = 0.937)","i":16,"x":0.055,"y":0.8},{"s":"Instial model (AUC = 0.937)","i":17,"x":0.07,"y":0.8},{"s":"Instial model (AUC = 0.937)","i":18,"x":0.07,"y":0.82},{"s":"Instial model (AUC = 0.937)","i":19,"x":0.1,"y":0.82},{"s":"Instial model (AUC = 0.937)","i":20,"x":0.1,"y":0.86},{"s":"Instial model (AUC = 0.937)","i":21,"x":0.13,"y":0.86},{"s":"Instial model (AUC = 0.937)","i":22,"x":0.13,"y":0.88},{"s":"Instial model (AUC = 0.937)","i":23,"x":0.155,"y":0.88},{"s":"Instial model (AUC = 0.937)","i":24,"x":0.155,"y":0.91},{"s":"Instial model (AUC = 0.937)","i":25,"x":0.165,"y":0.91},{"s":"Instial model (AUC = 0.937)","i":26,"x":0.165,"y":0.93},{"s":"Instial model (AUC = 0.937)","i":27,"x":0.24,"y":0.93},{"s":"Instial model (AUC = 0.937)","i":28,"x":0.24,"y":0.95},{"s":"Instial model (AUC = 0.937)","i":29,"x":0.3,"y":0.95},{"s":"Instial model (AUC = 0.937)","i":30,"x":0.3,"y":0.965},{"s":"Instial model (AUC = 0.937)","i":31,"x":0.565,"y":0.965},{"s":"Instial model (AUC = 0.937)","i":32,"x":0.565,"y":1},{"s":"Instial model (AUC = 0.937)","i":33,"x":1,"y":1},
{"s":"Chance","i":0,"x":0,"y":0},{"s":"Chance","i":1,"x":1,"y":1}
],
"f": [
{"stage":"Stage I","n":41,"sens":0.7805},{"stage":"Stage II","n":68,"sens":0.9118},{"stage":"Stage III","n":14,"sens":0.9286},{"stage":"Stage IV","n":19,"sens":1.0},{"stage":"Overall","n":142,"sens":0.8873}
]
},
"resolve": {"scale": {"color": "independent", "strokeDash": "independent", "strokeWidth": "independent"}, "legend": {"color": "independent", "strokeDash": "independent", "strokeWidth": "independent"}},
"spacing": 36,
"vconcat": [
{
"bounds": "flush",
"spacing": 109,
"resolve": {"scale": {"color": "independent", "strokeDash": "independent", "strokeWidth": "independent"}, "legend": {"color": "independent", "strokeDash": "independent", "strokeWidth": "independent"}},
"hconcat": [
{
"width": 280, "height": 187,
"title": {"text": "(A)", "dx": -29, "offset": 6},
"resolve": {"axis": {"x": "independent", "y": "independent"}},
"layer": [
{"data": {"name": "roc"}, "transform": [{"filter": "datum.p == 'A'"}],
 "mark": {"type": "line"},
 "encoding": {
  "x": {"field": "x", "type": "quantitative", "scale": {"domain": [-0.05, 1.05], "nice": false, "zero": false}, "axis": {"title": "False Positive Rate", "values": [0, 0.2, 0.4, 0.6, 0.8, 1], "format": ".1f", "labelOverlap": false}},
  "y": {"field": "y", "type": "quantitative", "scale": {"domain": [-0.05, 1.05], "nice": false, "zero": false}, "axis": {"title": "True Positive Rate", "tickCount": 6, "tickMinStep": 0.2, "format": ".1f", "labelOverlap": false, "labelSeparation": 0, "labelBound": false}},
  "order": {"field": "i", "type": "quantitative"},
  "color": {"field": "s", "type": "nominal", "scale": {"domain": ["Fold 1 (AUC = 0.875)","Fold 2 (AUC = 0.885)","Fold 3 (AUC = 0.896)","Fold 4 (AUC = 0.929)","Fold 5 (AUC = 0.960)","Fold 6 (AUC = 0.919)","Fold 7 (AUC = 0.899)","Fold 8 (AUC = 0.966)","Fold 9 (AUC = 0.943)","Fold 10 (AUC = 1.000)","Chance","Mean ROC (AUC = 0.925 ± 0.038)","± 1 std. dev."], "range": ["#bcd6e8","#ffd9b7","#c0e2c0","#f3bebe","#dfd1eb","#dcccc9","#f7d6ed","#d9d9d9","#ebebbd","#b9ecf1","#cc4125","#606060","#e3e3e3"]}, "legend": {"title": null, "legendX": 150, "legendY": 46, "encode": {"symbols": {"update": {"shape": {"signal": "indexof(datum.value, 'std.') >= 0 ? 'M-1.3,-0.4H1.3V0.4H-1.3Z' : 'stroke'"}, "fill": {"signal": "indexof(datum.value, 'std.') >= 0 ? '#e3e3e3' : 'transparent'"}}}}}},
  "strokeDash": {"field": "s", "type": "nominal", "scale": {"domain": ["Fold 1 (AUC = 0.875)","Fold 2 (AUC = 0.885)","Fold 3 (AUC = 0.896)","Fold 4 (AUC = 0.929)","Fold 5 (AUC = 0.960)","Fold 6 (AUC = 0.919)","Fold 7 (AUC = 0.899)","Fold 8 (AUC = 0.966)","Fold 9 (AUC = 0.943)","Fold 10 (AUC = 1.000)","Chance","Mean ROC (AUC = 0.925 ± 0.038)","± 1 std. dev."], "range": [[1,0],[1,0],[1,0],[1,0],[1,0],[1,0],[1,0],[1,0],[1,0],[1,0],[4,2],[1,0],[1,0]]}, "legend": {"title": null}},
  "strokeWidth": {"field": "s", "type": "nominal", "scale": {"type": "ordinal", "domain": ["Fold 1 (AUC = 0.875)","Fold 2 (AUC = 0.885)","Fold 3 (AUC = 0.896)","Fold 4 (AUC = 0.929)","Fold 5 (AUC = 0.960)","Fold 6 (AUC = 0.919)","Fold 7 (AUC = 0.899)","Fold 8 (AUC = 0.966)","Fold 9 (AUC = 0.943)","Fold 10 (AUC = 1.000)","Chance","Mean ROC (AUC = 0.925 ± 0.038)","± 1 std. dev."], "range": [1,1,1,1,1,1,1,1,1,1,1.6,1.6,1]}, "legend": {"title": null}}
 }},
{"data": {"name": "band"}, "transform": [{"filter": "datum.p == 'A'"}],
 "mark": {"type": "area", "color": "#888888", "opacity": 0.18},
 "encoding": {"x": {"field": "x", "type": "quantitative", "axis": null}, "y": {"field": "lo", "type": "quantitative", "axis": null}, "y2": {"field": "hi"}}}
]
},
{
"width": 285, "height": 187,
"title": {"text": "(B)", "dx": -47, "offset": -1},
"resolve": {"axis": {"x": "independent", "y": "independent"}},
"layer": [
{"data": {"name": "roc"}, "transform": [{"filter": "datum.p == 'B'"}],
 "mark": {"type": "line"},
 "encoding": {
  "x": {"field": "x", "type": "quantitative", "scale": {"domain": [-0.05, 1.1], "nice": false, "zero": false}, "axis": {"title": "False Positive Rate", "values": [0, 0.2, 0.4, 0.6, 0.8, 1], "format": ".1f", "labelOverlap": false}},
  "y": {"field": "y", "type": "quantitative", "scale": {"domain": [-0.05, 1.05], "nice": false, "zero": false}, "axis": {"title": "True Positive Rate", "tickCount": 6, "tickMinStep": 0.2, "format": ".1f", "labelOverlap": false, "labelSeparation": 0, "labelBound": false}},
  "order": {"field": "i", "type": "quantitative"},
  "color": {"field": "s", "type": "nominal", "scale": {"domain": ["Fold 1 (AUC = 0.844)","Fold 2 (AUC = 0.906)","Fold 3 (AUC = 0.917)","Fold 4 (AUC = 0.949)","Fold 5 (AUC = 0.939)","Fold 6 (AUC = 0.929)","Fold 7 (AUC = 0.949)","Fold 8 (AUC = 0.966)","Fold 9 (AUC = 0.966)","Fold 10 (AUC = 1.000)","Chance","Mean ROC (AUC = 0.933 ± 0.040)","± 1std. dev."], "range": ["#bcd6e8","#ffd9b7","#c0e2c0","#f3bebe","#dfd1eb","#dcccc9","#f7d6ed","#d9d9d9","#ebebbd","#b9ecf1","#cc4125","#606060","#e3e3e3"]}, "legend": {"title": null, "legendX": 157, "legendY": 43, "encode": {"symbols": {"update": {"shape": {"signal": "indexof(datum.value, 'std.') >= 0 ? 'M-1.3,-0.4H1.3V0.4H-1.3Z' : 'stroke'"}, "fill": {"signal": "indexof(datum.value, 'std.') >= 0 ? '#e3e3e3' : 'transparent'"}}}}}},
  "strokeDash": {"field": "s", "type": "nominal", "scale": {"domain": ["Fold 1 (AUC = 0.844)","Fold 2 (AUC = 0.906)","Fold 3 (AUC = 0.917)","Fold 4 (AUC = 0.949)","Fold 5 (AUC = 0.939)","Fold 6 (AUC = 0.929)","Fold 7 (AUC = 0.949)","Fold 8 (AUC = 0.966)","Fold 9 (AUC = 0.966)","Fold 10 (AUC = 1.000)","Chance","Mean ROC (AUC = 0.933 ± 0.040)","± 1std. dev."], "range": [[1,0],[1,0],[1,0],[1,0],[1,0],[1,0],[1,0],[1,0],[1,0],[1,0],[4,2],[1,0],[1,0]]}, "legend": {"title": null}},
  "strokeWidth": {"field": "s", "type": "nominal", "scale": {"type": "ordinal", "domain": ["Fold 1 (AUC = 0.844)","Fold 2 (AUC = 0.906)","Fold 3 (AUC = 0.917)","Fold 4 (AUC = 0.949)","Fold 5 (AUC = 0.939)","Fold 6 (AUC = 0.929)","Fold 7 (AUC = 0.949)","Fold 8 (AUC = 0.966)","Fold 9 (AUC = 0.966)","Fold 10 (AUC = 1.000)","Chance","Mean ROC (AUC = 0.933 ± 0.040)","± 1std. dev."], "range": [1,1,1,1,1,1,1,1,1,1,1.6,1.6,1]}, "legend": {"title": null}}
 }},
{"data": {"name": "band"}, "transform": [{"filter": "datum.p == 'B'"}],
 "mark": {"type": "area", "color": "#888888", "opacity": 0.18},
 "encoding": {"x": {"field": "x", "type": "quantitative", "axis": null}, "y": {"field": "lo", "type": "quantitative", "axis": null}, "y2": {"field": "hi"}}}
]
}
]
},
{
"spacing": 21,
"resolve": {"scale": {"color": "independent", "strokeDash": "independent", "strokeWidth": "independent"}, "legend": {"color": "independent", "strokeDash": "independent", "strokeWidth": "independent"}},
"vconcat": [
{
"bounds": "flush",
"spacing": 97,
"resolve": {"scale": {"color": "independent", "strokeDash": "independent", "strokeWidth": "independent"}, "legend": {"color": "independent", "strokeDash": "independent", "strokeWidth": "independent"}},
"hconcat": [
{
"width": 289, "height": 192,
"title": {"text": "(C)", "dx": -29, "offset": 2},
"resolve": {"axis": {"x": "independent", "y": "independent"}},
"layer": [
{"data": {"name": "roc"}, "transform": [{"filter": "datum.p == 'C'"}],
 "mark": {"type": "line"},
 "encoding": {
  "x": {"field": "x", "type": "quantitative", "scale": {"domain": [-0.05, 1.05], "nice": false, "zero": false}, "axis": {"title": "False Positive Rate", "values": [0, 0.2, 0.4, 0.6, 0.8, 1], "format": ".1f", "labelOverlap": false}},
  "y": {"field": "y", "type": "quantitative", "scale": {"domain": [-0.05, 1.05], "nice": false, "zero": false}, "axis": {"title": "True Positive Rate", "tickCount": 6, "tickMinStep": 0.2, "format": ".1f", "labelOverlap": false, "labelSeparation": 0, "labelBound": false}},
  "order": {"field": "i", "type": "quantitative"},
  "color": {"field": "s", "type": "nominal", "scale": {"domain": ["Fold 1 (AUC = 0.870)","Fold 2 (AUC = 0.917)","Fold 3 (AUC = 0.906)","Fold 4 (AUC = 1.000)","Fold 5 (AUC = 0.970)","Fold 6 (AUC = 0.939)","Fold 7 (AUC = 0.909)","Fold 8 (AUC = 0.966)","Fold 9 (AUC = 0.966)","Fold 10 (AUC = 1.000)","Chance","Mean ROC (AUC = 0.941 ± 0.041)","± 1 std. dev."], "range": ["#bcd6e8","#ffd9b7","#c0e2c0","#f3bebe","#dfd1eb","#dcccc9","#f7d6ed","#d9d9d9","#ebebbd","#b9ecf1","#cc4125","#606060","#e3e3e3"]}, "legend": {"title": null, "legendX": 161, "legendY": 56, "encode": {"symbols": {"update": {"shape": {"signal": "indexof(datum.value, 'std.') >= 0 ? 'M-1.3,-0.4H1.3V0.4H-1.3Z' : 'stroke'"}, "fill": {"signal": "indexof(datum.value, 'std.') >= 0 ? '#e3e3e3' : 'transparent'"}}}}}},
  "strokeDash": {"field": "s", "type": "nominal", "scale": {"domain": ["Fold 1 (AUC = 0.870)","Fold 2 (AUC = 0.917)","Fold 3 (AUC = 0.906)","Fold 4 (AUC = 1.000)","Fold 5 (AUC = 0.970)","Fold 6 (AUC = 0.939)","Fold 7 (AUC = 0.909)","Fold 8 (AUC = 0.966)","Fold 9 (AUC = 0.966)","Fold 10 (AUC = 1.000)","Chance","Mean ROC (AUC = 0.941 ± 0.041)","± 1 std. dev."], "range": [[1,0],[1,0],[1,0],[1,0],[1,0],[1,0],[1,0],[1,0],[1,0],[1,0],[4,2],[1,0],[1,0]]}, "legend": {"title": null}},
  "strokeWidth": {"field": "s", "type": "nominal", "scale": {"type": "ordinal", "domain": ["Fold 1 (AUC = 0.870)","Fold 2 (AUC = 0.917)","Fold 3 (AUC = 0.906)","Fold 4 (AUC = 1.000)","Fold 5 (AUC = 0.970)","Fold 6 (AUC = 0.939)","Fold 7 (AUC = 0.909)","Fold 8 (AUC = 0.966)","Fold 9 (AUC = 0.966)","Fold 10 (AUC = 1.000)","Chance","Mean ROC (AUC = 0.941 ± 0.041)","± 1 std. dev."], "range": [1,1,1,1,1,1,1,1,1,1,1.6,1.6,1]}, "legend": {"title": null}}
 }},
{"data": {"name": "band"}, "transform": [{"filter": "datum.p == 'C'"}],
 "mark": {"type": "area", "color": "#888888", "opacity": 0.18},
 "encoding": {"x": {"field": "x", "type": "quantitative", "axis": null}, "y": {"field": "lo", "type": "quantitative", "axis": null}, "y2": {"field": "hi"}}}
]
},
{
"width": 285, "height": 192,
"title": {"text": "(D)", "dx": -43, "offset": 1},
"resolve": {"axis": {"x": "independent", "y": "independent"}},
"layer": [
{"data": {"name": "roc"}, "transform": [{"filter": "datum.p == 'D'"}],
 "mark": {"type": "line"},
 "encoding": {
  "x": {"field": "x", "type": "quantitative", "scale": {"domain": [-0.05, 1.05], "nice": false, "zero": false}, "axis": {"title": "False Positive Rate", "values": [0, 0.2, 0.4, 0.6, 0.8, 1], "format": ".1f", "labelOverlap": false}},
  "y": {"field": "y", "type": "quantitative", "scale": {"domain": [-0.05, 1.05], "nice": false, "zero": false}, "axis": {"title": "True Positive Rate", "tickCount": 6, "tickMinStep": 0.2, "format": ".1f", "labelOverlap": false, "labelSeparation": 0, "labelBound": false}},
  "order": {"field": "i", "type": "quantitative"},
  "color": {"field": "s", "type": "nominal", "scale": {"domain": ["Fold 1 (AUC = 0.880)","Fold 2 (AUC = 0.917)","Fold 3 (AUC = 0.865)","Fold 4 (AUC = 0.980)","Fold 5 (AUC = 0.919)","Fold 6 (AUC = 0.909)","Fold 7 (AUC = 0.990)","Fold 8 (AUC = 0.955)","Fold 9 (AUC = 0.966)","Fold 10 (AUC = 1.000)","Chance","Mean ROC (AUC = 0.935 ± 0.044)","± 1 std. dev."], "range": ["#bcd6e8","#ffd9b7","#c0e2c0","#f3bebe","#dfd1eb","#dcccc9","#f7d6ed","#d9d9d9","#ebebbd","#b9ecf1","#cc4125","#606060","#e3e3e3"]}, "legend": {"title": null, "legendX": 159, "legendY": 50, "encode": {"symbols": {"update": {"shape": {"signal": "indexof(datum.value, 'std.') >= 0 ? 'M-1.3,-0.4H1.3V0.4H-1.3Z' : 'stroke'"}, "fill": {"signal": "indexof(datum.value, 'std.') >= 0 ? '#e3e3e3' : 'transparent'"}}}}}},
  "strokeDash": {"field": "s", "type": "nominal", "scale": {"domain": ["Fold 1 (AUC = 0.880)","Fold 2 (AUC = 0.917)","Fold 3 (AUC = 0.865)","Fold 4 (AUC = 0.980)","Fold 5 (AUC = 0.919)","Fold 6 (AUC = 0.909)","Fold 7 (AUC = 0.990)","Fold 8 (AUC = 0.955)","Fold 9 (AUC = 0.966)","Fold 10 (AUC = 1.000)","Chance","Mean ROC (AUC = 0.935 ± 0.044)","± 1 std. dev."], "range": [[1,0],[1,0],[1,0],[1,0],[1,0],[1,0],[1,0],[1,0],[1,0],[1,0],[4,2],[1,0],[1,0]]}, "legend": {"title": null}},
  "strokeWidth": {"field": "s", "type": "nominal", "scale": {"type": "ordinal", "domain": ["Fold 1 (AUC = 0.880)","Fold 2 (AUC = 0.917)","Fold 3 (AUC = 0.865)","Fold 4 (AUC = 0.980)","Fold 5 (AUC = 0.919)","Fold 6 (AUC = 0.909)","Fold 7 (AUC = 0.990)","Fold 8 (AUC = 0.955)","Fold 9 (AUC = 0.966)","Fold 10 (AUC = 1.000)","Chance","Mean ROC (AUC = 0.935 ± 0.044)","± 1 std. dev."], "range": [1,1,1,1,1,1,1,1,1,1,1.6,1.6,1]}, "legend": {"title": null}}
 }},
{"data": {"name": "band"}, "transform": [{"filter": "datum.p == 'D'"}],
 "mark": {"type": "area", "color": "#888888", "opacity": 0.18},
 "encoding": {"x": {"field": "x", "type": "quantitative", "axis": null}, "y": {"field": "lo", "type": "quantitative", "axis": null}, "y2": {"field": "hi"}}}
]
}
]
},
{
"bounds": "flush",
"spacing": 140,
"resolve": {"scale": {"color": "independent", "strokeDash": "independent"}, "legend": {"color": "independent", "strokeDash": "independent"}},
"hconcat": [
{
"width": 290, "height": 191,
"title": {"text": "(E)", "dx": -29, "offset": -2},
"data": {"name": "e"},
"mark": {"type": "line", "strokeWidth": 1.5},
"encoding": {
  "x": {"field": "x", "type": "quantitative", "scale": {"domain": [0, 1], "nice": false, "zero": false}, "axis": {"title": "False Positive Rate", "values": [0, 0.2, 0.4, 0.6, 0.8, 1], "format": ".1f", "labelOverlap": false}},
  "y": {"field": "y", "type": "quantitative", "scale": {"domain": [0, 1.05], "nice": false, "zero": false}, "axis": {"title": "True Positive Rate", "values": [0, 0.2, 0.4, 0.6, 0.8, 1], "format": ".1f", "labelOverlap": false}},
  "order": {"field": "i", "type": "quantitative"},
  "color": {"field": "s", "type": "nominal", "scale": {"domain": ["Boruta (AUC = 0.948)","Boruta+RFE+Tissue-plasma concordance (AUC = 0.946)","Boruta+RFE (AUC = 0.946)","Instial model (AUC = 0.937)","Chance"], "range": ["#e4572e","#3a9b73","#8e9bcc","#f4a07f","#cc4125"]}, "legend": {"title": null, "legendX": 82, "legendY": 130, "symbolType": "M-1.9,0H1.9", "symbolSize": 100, "symbolOffset": 4, "symbolStrokeWidth": 2, "labelOffset": 7, "labelFontSize": 7, "rowPadding": 1.3, "padding": 4}},
  "strokeDash": {"field": "s", "type": "nominal", "scale": {"domain": ["Boruta (AUC = 0.948)","Boruta+RFE+Tissue-plasma concordance (AUC = 0.946)","Boruta+RFE (AUC = 0.946)","Instial model (AUC = 0.937)","Chance"], "range": [[1,0],[1,0],[1,0],[1,0],[5,3]]}, "legend": {"title": null}}
}
},
{
"width": 235, "height": 189,
"view": {"stroke": null},
"title": {"text": "(F)", "dx": -87, "offset": -4},
"data": {"name": "f"},
"encoding": {
  "x": {"field": "stage", "type": "nominal", "sort": null, "axis": {"title": null, "labelAngle": 0, "ticks": false, "domain": true, "domainColor": "#8fa3d8", "domainWidth": 1.5, "labelFontSize": 9, "labelColor": "#666666", "labelPadding": 5, "labelLineHeight": 14, "labelExpr": "[datum.label, {'Stage I': 'n = 41', 'Stage II': 'n = 68', 'Stage III': 'n = 14', 'Stage IV': 'n = 19', 'Overall': 'n = 142'}[datum.label]]"}},
  "y": {"field": "sens", "type": "quantitative", "scale": {"domain": [0, 1], "range": [189, 64], "nice": false}, "axis": {"title": "Sensitivity", "values": [0, 0.2, 0.4, 0.6, 0.8, 1], "format": ".2%", "ticks": false, "domain": true, "domainColor": "#8fa3d8", "domainWidth": 1.5, "labelFontSize": 9, "labelColor": "#666666", "labelPadding": 3, "titleFontSize": 8, "titleColor": "#666666", "titlePadding": 2, "labelOverlap": false}}
},
"layer": [
  {"mark": {"type": "bar", "width": 15, "color": "#4467a8"}},
  {"mark": {"type": "text", "baseline": "bottom", "dy": -4, "fontSize": 9, "color": "#777777"}, "encoding": {"text": {"field": "sens", "type": "quantitative", "format": ".2%"}}}
]
}
]
}
]
}
]
}
